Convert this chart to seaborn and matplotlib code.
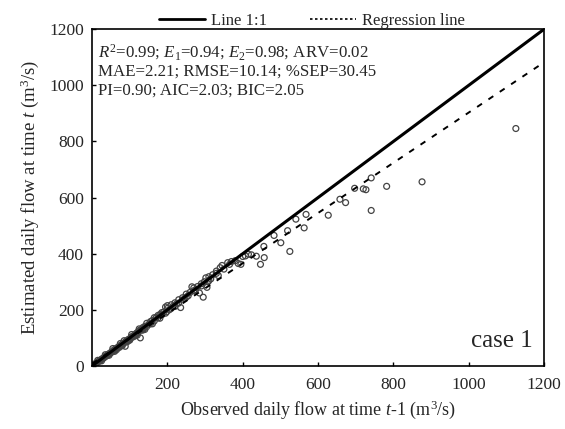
import matplotlib
matplotlib.use("Agg")
import matplotlib.pyplot as plt
from matplotlib.lines import Line2D
import seaborn as sns
import pandas as pd
import numpy as np

observed = [2, 5, 8, 10, 12, 15, 18, 20, 22, 25, 28, 30, 33, 35, 38, 40, 42, 45, 48, 50,
            52, 55, 58, 60, 62, 65, 68, 70, 72, 75, 78, 80, 82, 85, 88, 90, 92, 95, 98, 100,
            103, 105, 108, 110, 112, 115, 118, 120, 122, 125, 128, 130, 132, 135, 138, 140,
            145, 150, 155, 160, 165, 170, 175, 180, 185, 190, 195, 198, 200, 205, 210, 215,
            220, 225, 230, 235, 240, 245, 250, 255, 260, 265, 270, 275, 280, 285, 290, 295,
            298, 302, 305, 308, 310, 315, 320, 330, 335, 340, 345, 350, 360, 365, 370, 380,
            388, 395, 400, 407, 415, 423, 436, 447, 456, 457, 483, 501, 519, 525, 541, 563,
            568, 627, 658, 673, 697, 720, 727, 741, 741, 782, 876, 1125,
            15, 25, 35, 45, 55, 65, 75, 85, 95, 105, 115, 125, 135, 145, 155, 165, 175, 185,
            195, 60, 80, 100, 120, 140, 160, 180, 200, 210, 220, 230, 250, 270, 290, 310, 330]
estimated = [2, 4, 7, 9, 11, 13, 17, 19, 20, 24, 26, 28, 31, 34, 36, 37, 41, 43, 46, 47,
             50, 52, 57, 56, 60, 63, 65, 68, 66, 73, 75, 77, 80, 82, 70, 88, 86, 93, 95, 97,
             100, 104, 103, 108, 106, 113, 117, 116, 121, 126, 100, 129, 128, 137, 135, 141,
             140, 148, 158, 162, 160, 172, 171, 183, 182, 192, 210, 193, 215, 200, 218, 212,
             225, 222, 236, 208, 243, 240, 256, 250, 262, 282, 268, 272, 283, 260, 293, 245,
             300, 314, 280, 300, 318, 310, 325, 330, 322, 350, 358, 345, 368, 362, 372, 375,
             365, 362, 390, 392, 398, 396, 391, 362, 426, 386, 465, 439, 482, 408, 523, 492,
             540, 537, 594, 582, 633, 631, 628, 670, 554, 640, 656, 846,
             20, 18, 40, 38, 62, 58, 80, 90, 88, 112, 108, 132, 128, 152, 150, 172, 180, 190,
             188, 52, 72, 92, 110, 130, 150, 170, 205, 205, 212, 224, 245, 278, 285, 305, 338]

reg_intercept = 8.0
reg_slope = 0.895

stats_lines = [r"$R^2$=0.99; $E_1$=0.94; $E_2$=0.98; ARV=0.02",
               "MAE=2.21; RMSE=10.14; %SEP=30.45",
               "PI=0.90; AIC=2.03; BIC=2.05"]

sns.set_theme(style="white")
plt.rcParams["font.family"] = ["Liberation Serif", "DejaVu Serif"]
plt.rcParams["mathtext.fontset"] = "custom"
plt.rcParams["mathtext.rm"] = "Liberation Serif"
plt.rcParams["mathtext.it"] = "Liberation Serif:italic"

df = pd.DataFrame({"obs": observed, "est": estimated})

fig = plt.figure(figsize=(5.65, 4.29), dpi=100)
ax = fig.add_axes([0.163, 0.147, 0.8, 0.785])

sns.scatterplot(data=df, x="obs", y="est", ax=ax, marker="o", s=18,
                facecolor="none", edgecolor="#444444", linewidth=0.9, legend=False)

xx = np.array([0, 1200])
ax.plot(xx, xx, color="black", lw=2.2, solid_capstyle="butt")
ax.plot(xx, reg_intercept + reg_slope * xx, color="black", lw=1.4, ls=(0, (3, 4)))

ax.set_xlim(0, 1200)
ax.set_ylim(0, 1200)
ax.set_xticks([200, 400, 600, 800, 1000, 1200])
ax.set_yticks([0, 200, 400, 600, 800, 1000, 1200])
ax.tick_params(direction="in", length=3, width=1, labelsize=12.5, color="black",
               bottom=True, left=True, pad=8)
ax.tick_params(axis="y", pad=6)
for sp in ax.spines.values():
    sp.set_color("black")
    sp.set_linewidth(1.2)

ax.set_xlabel(r"Observed daily flow at time $t$-1 (m$^3$/s)", fontsize=13, labelpad=4)
ax.set_ylabel(r"Estimated daily flow at time $t$ (m$^3$/s)", fontsize=13.5, labelpad=6)

ys = [0.932, 0.875, 0.818]
for y, s in zip(ys, stats_lines):
    ax.text(0.012, y, s, transform=ax.transAxes, fontsize=12.2,
            va="center", ha="left")
ax.text(0.975, 0.04, "case 1", transform=ax.transAxes, fontsize=18,
        ha="right", va="bottom")

handles = [Line2D([], [], color="black", lw=2),
           Line2D([], [], color="black", lw=1.2, ls=(0, (1.5, 1.5)))]
fig.legend(handles, ["Line 1:1", "Regression line"], loc="upper center",
           bbox_to_anchor=(0.552, 1.005), ncol=2, frameon=False, fontsize=12,
           handlelength=2.75, columnspacing=2.6, handletextpad=0.35)

fig.savefig("out.png", dpi=100)
